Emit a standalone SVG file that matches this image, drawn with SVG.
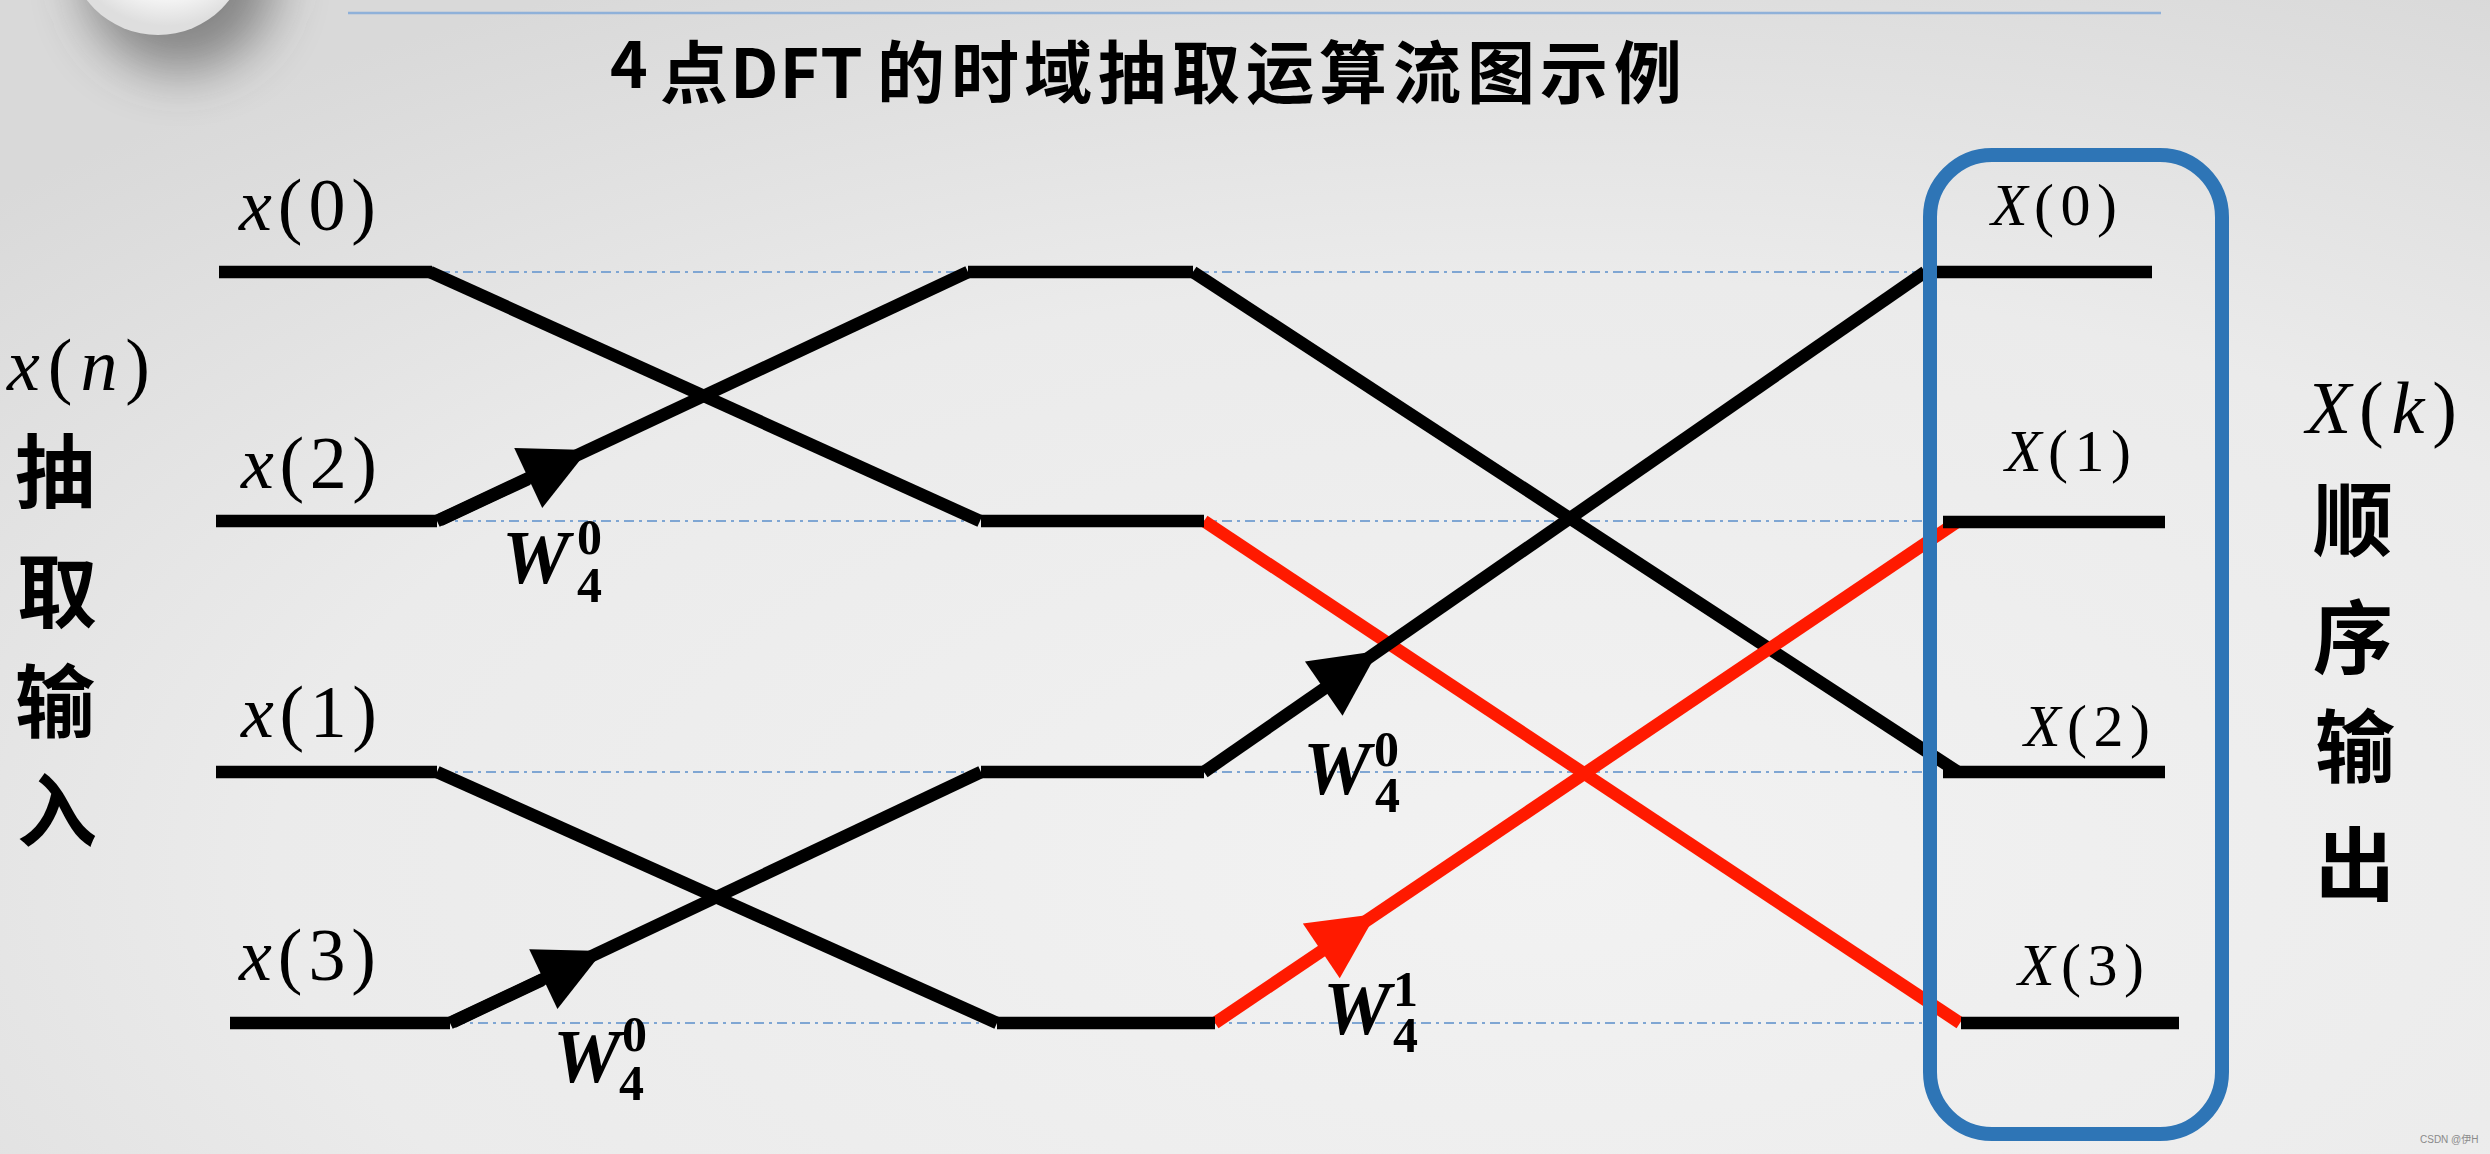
<svg xmlns="http://www.w3.org/2000/svg" width="2490" height="1154" viewBox="0 0 2490 1154">
<defs>
<radialGradient id="bg" cx="0.62" cy="0.75" r="0.85">
<stop offset="0" stop-color="#f2f2f2"/>
<stop offset="0.6" stop-color="#ebebeb"/>
<stop offset="1" stop-color="#d9d9d9"/>
</radialGradient>
<radialGradient id="disc" cx="0.55" cy="0.35" r="0.6">
<stop offset="0" stop-color="#ffffff"/>
<stop offset="0.75" stop-color="#f4f4f4"/>
<stop offset="1" stop-color="#dedede"/>
</radialGradient>
<filter id="blur" x="-1" y="-1" width="3" height="3">
<feGaussianBlur stdDeviation="26"/>
</filter>
<path id="ah" d="M0,0 L-66,-33 L-66,33 Z"/>
<style>
.bk{stroke:#000;stroke-width:12.5;fill:none;stroke-linecap:butt}
.rd{stroke:#ff1a00;stroke-width:12.5;fill:none;stroke-linecap:butt}
.guide{stroke:#7fa6d3;stroke-width:2;stroke-dasharray:10 5 3 5;fill:none}
.lab{font-family:"Liberation Serif","DejaVu Serif",serif;font-size:74px;fill:#000}
.labX{font-family:"Liberation Serif","DejaVu Serif",serif;font-size:60px;fill:#000}
.it{font-style:italic}
.W{font-family:"Liberation Serif","DejaVu Serif",serif;font-weight:bold;font-style:italic;font-size:76px;fill:#000}
.ws{font-family:"Liberation Serif","DejaVu Serif",serif;font-weight:bold;font-size:50px;fill:#000}
.cjk{font-family:"Noto Sans CJK SC",sans-serif;font-weight:700;font-size:80px;fill:#000;text-anchor:middle}
.title{font-family:"Noto Sans CJK SC",sans-serif;font-weight:700;font-size:68px;fill:#000}
</style>
</defs>

<rect width="2490" height="1154" fill="url(#bg)"/>

<g id="decoration">
<circle cx="180" cy="-25" r="96" fill="#404040" opacity="0.55" filter="url(#blur)"/>
<circle cx="158" cy="-55" r="90" fill="url(#disc)"/>
<line x1="348" y1="13" x2="2161" y2="13" stroke="#8fb1d9" stroke-width="2.5"/>
</g>

<g id="title">
<text class="title"><tspan x="610" y="88" font-size="64">4</tspan><tspan x="660" y="98">点</tspan><tspan x="730" y="98" letter-spacing="1">DFT</tspan><tspan x="877 951 1024 1098 1172 1246 1319 1393 1467 1540 1614" y="98">的时域抽取运算流图示例</tspan></text>
</g>

<g id="guides">
<path class="guide" d="M440,272 H1930 M440,521 H1930 M440,772 H1930 M455,1023 H1930"/>
</g>

<g id="connectors">
<path class="bk" d="M430,272 L980,521"/>
<path class="bk" d="M437,521 L968,272"/>
<path class="bk" d="M440,520 L528,479" stroke-width="16"/>
<use href="#ah" transform="translate(588,450) rotate(-25.1)"/>
<path class="bk" d="M437,772 L997,1023"/>
<path class="bk" d="M450,1023 L981,772"/>
<path class="bk" d="M453,1022 L542,980" stroke-width="16"/>
<use href="#ah" transform="translate(603,951) rotate(-25.3)"/>
<path class="bk" d="M1193,272 L1958,772"/>
<path class="rd" d="M1204,521 L1960,1023"/>
<path class="bk" d="M1204,772 L1925,272"/>
<use href="#ah" transform="translate(1378,651) rotate(-34.7)"/>
<path class="rd" d="M1215,1023 L1957,522"/>
<use href="#ah" fill="#ff1a00" transform="translate(1376,914) rotate(-34)"/>
</g>

<g id="in-x0"><path class="bk" d="M219,272 H432"/><text class="lab" x="239" y="230" textLength="137"><tspan class="it">x</tspan>(0)</text></g>
<g id="in-x2"><path class="bk" d="M216,521 H437"/><text class="lab" x="241" y="488" textLength="136"><tspan class="it">x</tspan>(2)</text></g>
<g id="in-x1"><path class="bk" d="M216,772 H437"/><text class="lab" x="241" y="737" textLength="136"><tspan class="it">x</tspan>(1)</text></g>
<g id="in-x3"><path class="bk" d="M230,1023 H450"/><text class="lab" x="239" y="980" textLength="137"><tspan class="it">x</tspan>(3)</text></g>

<g id="mid-0"><path class="bk" d="M968,272 H1193"/></g>
<g id="mid-1"><path class="bk" d="M981,521 H1204"/></g>
<g id="mid-2"><path class="bk" d="M981,772 H1204"/></g>
<g id="mid-3"><path class="bk" d="M997,1023 H1215"/></g>

<g id="out-X0"><path class="bk" d="M1925,272 H2152"/><text class="labX" x="1991" y="225" textLength="126"><tspan class="it">X</tspan>(0)</text></g>
<g id="out-X1"><path class="bk" d="M1943,522 H2165"/><text class="labX" x="2005" y="471" textLength="126"><tspan class="it">X</tspan>(1)</text></g>
<g id="out-X2"><path class="bk" d="M1943,772 H2165"/><text class="labX" x="2024" y="746" textLength="126"><tspan class="it">X</tspan>(2)</text></g>
<g id="out-X3"><path class="bk" d="M1961,1023 H2179"/><text class="labX" x="2018" y="985" textLength="126"><tspan class="it">X</tspan>(3)</text></g>

<g id="w1"><text class="W" x="502" y="583">W</text><text class="ws" x="577" y="554">0</text><text class="ws" x="577" y="602">4</text></g>
<g id="w2"><text class="W" x="553" y="1082">W</text><text class="ws" x="622" y="1051">0</text><text class="ws" x="619" y="1100">4</text></g>
<g id="w3"><text class="W" x="1303" y="794">W</text><text class="ws" x="1374" y="766">0</text><text class="ws" x="1375" y="812">4</text></g>
<g id="w4"><text class="W" x="1323" y="1034">W</text><text class="ws" x="1393" y="1006">1</text><text class="ws" x="1393" y="1052">4</text></g>

<g id="box-output"><rect x="1930" y="155" width="292" height="979" rx="62" fill="none" stroke="#2e75b6" stroke-width="14"/></g>

<g id="label-input">
<text class="lab" x="7" y="390" textLength="143"><tspan class="it">x</tspan>(<tspan class="it">n</tspan>)</text>
<text class="cjk" x="55" y="501">抽</text>
<text class="cjk" x="57" y="621">取</text>
<text class="cjk" x="55" y="731">输</text>
<text class="cjk" x="57" y="840">入</text>
</g>

<g id="label-output">
<text class="lab" x="2306" y="433" textLength="151"><tspan class="it">X</tspan>(<tspan class="it">k</tspan>)</text>
<text class="cjk" x="2353" y="549" font-size="78">顺</text>
<text class="cjk" x="2353" y="667" font-size="78">序</text>
<text class="cjk" x="2355" y="776" font-size="78">输</text>
<text class="cjk" x="2355" y="894" font-size="78">出</text>
</g>

<text x="2420" y="1143" font-family="'Liberation Sans','Noto Sans CJK SC',sans-serif" font-size="10" fill="#8a8a8a">CSDN @伊H</text>
</svg>
